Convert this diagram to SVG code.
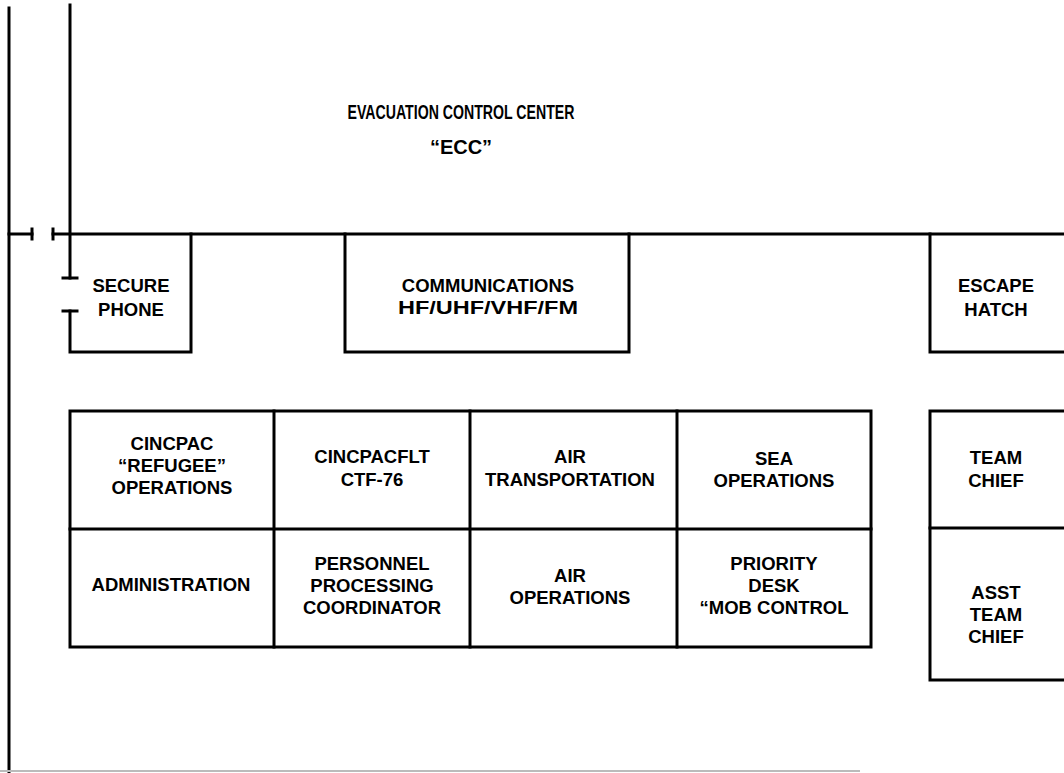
<svg xmlns="http://www.w3.org/2000/svg" width="1064" height="773" viewBox="0 0 1064 773">
<style>
.ln{stroke:#000;stroke-width:3;fill:none;stroke-linecap:square}
.bx{stroke:#000;stroke-width:3;fill:none}
.t{font-family:"Liberation Sans",Arial,sans-serif;font-weight:bold;font-size:18.5px;fill:#000;text-anchor:middle}
.tt{font-family:"Liberation Sans",Arial,sans-serif;font-weight:bold;font-size:20px;fill:#000;text-anchor:middle}
</style>
<rect width="1064" height="773" fill="#fff"/>
<g id="connectors">
<line class="ln" x1="9" y1="8" x2="9" y2="773"/>
<line x1="0" y1="771" x2="860" y2="771" stroke="#bbb" stroke-width="2"/>
<line class="ln" x1="9" y1="234" x2="32" y2="234"/>
<line class="ln" x1="32" y1="229" x2="32" y2="239"/>
<line class="ln" x1="53" y1="229" x2="53" y2="239"/>
<line class="ln" x1="53" y1="234" x2="1064" y2="234"/>
<line class="ln" x1="70" y1="5" x2="70" y2="278"/>
<line class="ln" x1="63" y1="278" x2="77" y2="278"/>
<line class="ln" x1="63" y1="311" x2="77" y2="311"/>
</g>
<g id="ecc">
<text class="tt" x="461" y="119" textLength="227" lengthAdjust="spacingAndGlyphs">EVACUATION CONTROL CENTER</text>
<text class="tt" x="461" y="154">“ECC”</text>
</g>
<g id="secure-phone">
<polyline class="ln" points="70,311 70,352 191,352 191,234"/>
<text class="t" x="131" y="292">SECURE</text>
<text class="t" x="131" y="316">PHONE</text>
</g>
<g id="communications">
<polyline class="ln" points="345,234 345,352 629,352 629,234"/>
<text class="t" x="488" y="292">COMMUNICATIONS</text>
<text class="t" x="488" y="314" textLength="180" lengthAdjust="spacingAndGlyphs">HF/UHF/VHF/FM</text>
</g>
<g id="escape-hatch">
<polyline class="ln" points="930,234 930,352 1064,352"/>
<text class="t" x="996" y="292">ESCAPE</text>
<text class="t" x="996" y="316">HATCH</text>
</g>
<g id="grid">
<rect class="bx" x="70" y="411" width="801" height="236"/>
<line class="ln" x1="70" y1="529" x2="871" y2="529"/>
<line class="ln" x1="274" y1="411" x2="274" y2="647"/>
<line class="ln" x1="470" y1="411" x2="470" y2="647"/>
<line class="ln" x1="677" y1="411" x2="677" y2="647"/>
</g>
<g id="cincpac">
<text class="t" x="172" y="450">CINCPAC</text>
<text class="t" x="172" y="472">“REFUGEE”</text>
<text class="t" x="172" y="494">OPERATIONS</text>
</g>
<g id="cincpacflt">
<text class="t" x="372" y="463">CINCPACFLT</text>
<text class="t" x="372" y="486">CTF-76</text>
</g>
<g id="air-transportation">
<text class="t" x="570" y="463">AIR</text>
<text class="t" x="570" y="486">TRANSPORTATION</text>
</g>
<g id="sea-operations">
<text class="t" x="774" y="465">SEA</text>
<text class="t" x="774" y="487">OPERATIONS</text>
</g>
<g id="administration">
<text class="t" x="171" y="591">ADMINISTRATION</text>
</g>
<g id="personnel">
<text class="t" x="372" y="570">PERSONNEL</text>
<text class="t" x="372" y="592">PROCESSING</text>
<text class="t" x="372" y="614">COORDINATOR</text>
</g>
<g id="air-operations">
<text class="t" x="570" y="582">AIR</text>
<text class="t" x="570" y="604">OPERATIONS</text>
</g>
<g id="priority-desk">
<text class="t" x="774" y="570">PRIORITY</text>
<text class="t" x="774" y="592">DESK</text>
<text class="t" x="774" y="614">“MOB CONTROL</text>
</g>
<g id="team-chief">
<polyline class="ln" points="1064,411 930,411 930,680 1064,680"/>
<line class="ln" x1="930" y1="528" x2="1064" y2="528"/>
<text class="t" x="996" y="464">TEAM</text>
<text class="t" x="996" y="487">CHIEF</text>
</g>
<g id="asst-team-chief">
<text class="t" x="996" y="599">ASST</text>
<text class="t" x="996" y="621">TEAM</text>
<text class="t" x="996" y="643">CHIEF</text>
</g>
</svg>
